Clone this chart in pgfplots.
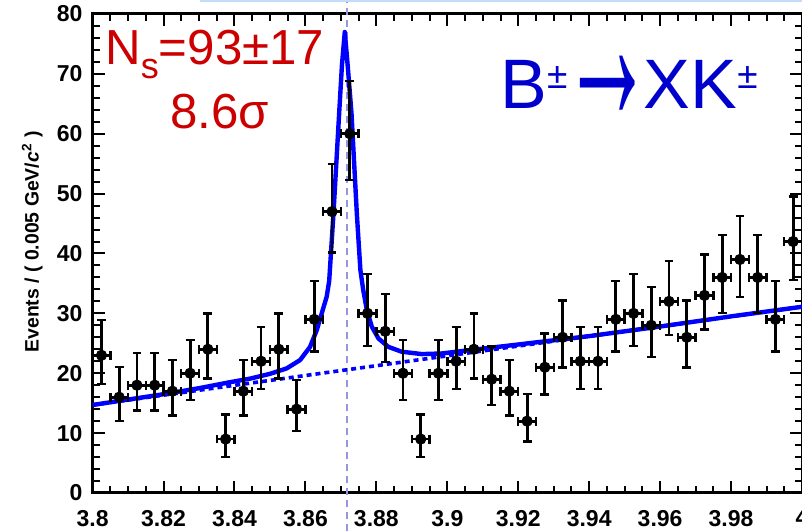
\documentclass[border=0pt]{standalone}
\usepackage{fontspec}
\setmainfont{Liberation Sans}
\usepackage{graphicx}
\usepackage{pgfplots}
\usepackage{pgfplotstable}
\pgfplotsset{compat=1.18}

\definecolor{fitblue}{RGB}{0,0,255}
\definecolor{txtblue}{RGB}{0,0,204}
\definecolor{txtred}{RGB}{204,0,0}
\definecolor{markline}{RGB}{150,150,225}
\definecolor{topline}{RGB}{195,220,250}

% bin centre, events, Poisson errors (+/-)
\pgfplotstableread{
x y ep em
3.8025 23 5.87 4.76
3.8075 16 5.09 3.95
3.8125 18 5.33 4.20
3.8175 18 5.33 4.20
3.8225 17 5.21 4.08
3.8275 20 5.56 4.43
3.8325 24 5.97 4.87
3.8375 9 4.12 2.94
3.8425 17 5.21 4.08
3.8475 22 5.77 4.66
3.8525 24 5.97 4.87
3.8575 14 4.84 3.69
3.8625 29 6.45 5.36
3.8675 47 7.91 6.83
3.8725 60 8.79 7.72
3.8775 30 6.55 5.45
3.8825 27 6.27 5.17
3.8875 20 5.56 4.43
3.8925 9 4.12 2.94
3.8975 20 5.56 4.43
3.9025 22 5.77 4.66
3.9075 24 5.97 4.87
3.9125 19 5.44 4.32
3.9175 17 5.21 4.08
3.9225 12 4.57 3.41
3.9275 21 5.66 4.55
3.9325 26 6.17 5.07
3.9375 22 5.77 4.66
3.9425 22 5.77 4.66
3.9475 29 6.45 5.36
3.9525 30 6.55 5.45
3.9575 28 6.36 5.27
3.9625 32 6.72 5.63
3.9675 26 6.17 5.07
3.9725 33 6.81 5.72
3.9775 36 7.06 5.97
3.9825 39 7.30 6.22
3.9875 36 7.06 5.97
3.9925 29 6.45 5.36
3.9975 42 7.54 6.45
}\bins

\begin{document}
\begin{tikzpicture}
\begin{axis}[
  scale only axis,
  width=354.7pt, height=239.5pt,
  xmin=3.8, xmax=4.0, ymin=0, ymax=80,
  xtick={3.8,3.82,3.84,3.86,3.88,3.9,3.92,3.94,3.96,3.98,4.0},
  xticklabels={3.8,3.82,3.84,3.86,3.88,3.9,3.92,3.94,3.96,3.98,4},
  ytick={0,10,20,30,40,50,60,70,80},
  minor x tick num=3, minor y tick num=4,
  tick align=inside,
  major tick length=6pt, minor tick length=3.5pt,
  tick style={black, line width=1pt},
  axis line style={line width=1.5pt},
  /pgf/number format/assume math mode=true,
  tick label style={font=\bfseries\fontsize{11.5}{13}\selectfont},
  xticklabel style={yshift=-5pt},
  yticklabel style={xshift=-1.5pt},
  ylabel={Events / ( 0.005 GeV/\textit{c}\textsuperscript{2} )},
  ylabel style={at={(axis description cs:-0.085,0.524)}, anchor=center,
    font=\bfseries\fontsize{9.7}{11}\selectfont},
  clip=false,
]
  % X(3872) mass marker
  \addplot[markline, line width=0.8pt, dash pattern=on 3.5pt off 2.5pt]
    coordinates {(3.8717,-6.4)(3.8717,82.4)};

  % background component
  \addplot[fitblue, line width=1.8pt, dash pattern=on 2.5pt off 2pt]
    coordinates {(3.80,14.7)(3.90,22.9)(4.00,31.1)};

  % total fit
  \addplot[fitblue, line width=2.2pt, line join=round] coordinates {
    (3.8000,14.7)(3.8100,15.6)(3.8200,16.5)(3.8300,17.5)(3.8387,18.5)
    (3.8444,19.1)(3.8500,19.9)(3.8547,20.8)(3.8585,22.2)(3.8613,24.4)
    (3.8632,27.2)(3.8649,30.6)(3.8660,32.8)(3.8667,35.4)(3.8679,46.6)
    (3.8695,63.3)(3.8703,71.5)(3.8711,77.0)(3.8719,71.5)(3.8730,63.3)
    (3.8745,46.6)(3.8755,37.2)(3.8763,33.9)(3.8773,30.6)(3.8787,27.8)
    (3.8806,25.8)(3.8834,24.4)(3.8871,23.6)(3.8928,23.2)(3.8984,23.3)
    (3.9041,23.7)(3.9200,24.8)(3.9400,26.2)(3.9600,27.8)(3.9800,29.5)
    (4.0000,31.1)
  };

  % data
  \addplot[only marks, mark=*, mark size=2.6pt, black,
    error bars/.cd, x dir=both, x fixed=0.0025, y dir=both, y explicit,
    error bar style={line width=1.4pt, black},
    error mark options={rotate=90, line width=1.2pt, mark size=2.2pt, black}]
    table[x=x, y=y, y error plus=ep, y error minus=em] {\bins};

  \node[anchor=base west, txtred, inner sep=0, font=\fontsize{24.6}{28}\selectfont]
    at (axis cs:3.8035,71.6) {N\raisebox{-7pt}{\fontsize{18}{18}\selectfont s}=93±17};
  \node[anchor=base, txtred, inner sep=0, font=\fontsize{24.6}{28}\selectfont]
    at (axis cs:3.8359,60.8) {8.6σ};
  \node[anchor=base west, txtblue, inner sep=0, font=\fontsize{35}{40}\selectfont]
    at (axis cs:3.9149,64.2)
    {B\raisebox{10pt}{\fontsize{18.5}{18.5}\selectfont ±}\hspace{-3pt}\raisebox{-6.5pt}{\scalebox{1.32}[3.3]{\bfseries →}}\hspace{-5pt}XK\raisebox{10pt}{\fontsize{18.5}{18.5}\selectfont ±}};
\end{axis}
\draw[topline, line width=1pt] ([xshift=53.7pt, yshift=6.5pt]current axis.north west)
  -- ([yshift=6.5pt]current axis.north east);
\pgfresetboundingbox
\path ([xshift=-46.3pt, yshift=-19pt]current axis.south west)
  rectangle ([yshift=7pt]current axis.north east);
\end{tikzpicture}
\end{document}
